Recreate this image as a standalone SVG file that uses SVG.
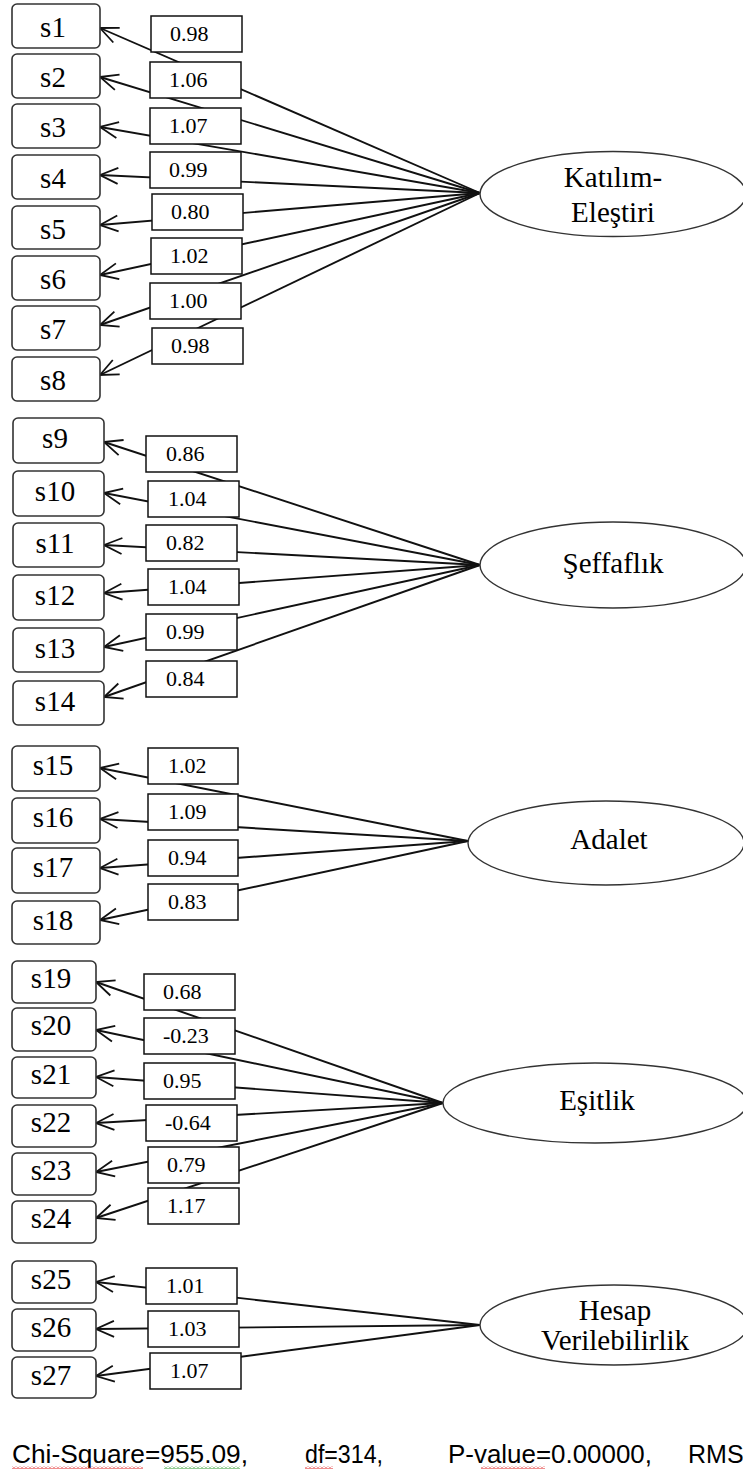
<svg xmlns="http://www.w3.org/2000/svg" width="743" height="1470" viewBox="0 0 743 1470">
<style>
.ind rect{fill:#fff;stroke:#333;stroke-width:1.6}
.ind text{font-family:"Liberation Serif","Times New Roman",serif;font-size:29px;fill:#000;text-anchor:middle}
.val rect{fill:#fff;stroke:#111;stroke-width:1.5}
.val text{font-family:"Liberation Serif","Times New Roman",serif;font-size:22px;fill:#000}
.lat ellipse{fill:#fff;stroke:#333;stroke-width:1.4}
.lat text{font-family:"Liberation Serif","Times New Roman",serif;font-size:29px;fill:#000;text-anchor:middle}
#connectors line{stroke:#111;stroke-width:1.9;fill:none;marker-end:url(#arr)}
.fit{font-family:"Liberation Sans",Arial,sans-serif;font-size:25px;fill:#000}
</style>
<defs>
<marker id="arr" markerUnits="userSpaceOnUse" markerWidth="24" markerHeight="20" viewBox="0 0 24 20" refX="20" refY="10" orient="auto" overflow="visible">
<path d="M2,2 L20,10 L2,18" fill="none" stroke="#111" stroke-width="1.8"/>
</marker>
<pattern id="wavyRed" width="4" height="3" patternUnits="userSpaceOnUse"><path d="M0,2.5 L2,0.5 L4,2.5" stroke="#e02020" fill="none" stroke-width="1"/></pattern>
<pattern id="wavyGreen" width="4" height="3" patternUnits="userSpaceOnUse"><path d="M0,2.5 L2,0.5 L4,2.5" stroke="#2a9a2a" fill="none" stroke-width="1"/></pattern>
</defs>
<rect width="743" height="1470" fill="#fff"/>

<g id="connectors">
<line x1="480" y1="193" x2="100" y2="28"/>
<line x1="480" y1="193" x2="100" y2="77"/>
<line x1="480" y1="193" x2="100" y2="127"/>
<line x1="480" y1="193" x2="100" y2="175"/>
<line x1="480" y1="193" x2="100" y2="225"/>
<line x1="480" y1="193" x2="100" y2="275"/>
<line x1="480" y1="193" x2="100" y2="325"/>
<line x1="480" y1="193" x2="100" y2="375"/>

<line x1="480" y1="565" x2="104" y2="442"/>
<line x1="480" y1="565" x2="104" y2="493"/>
<line x1="480" y1="565" x2="104" y2="545"/>
<line x1="480" y1="565" x2="104" y2="593"/>
<line x1="480" y1="565" x2="104" y2="647"/>
<line x1="480" y1="565" x2="104" y2="697"/>

<line x1="468" y1="841" x2="100" y2="768"/>
<line x1="468" y1="841" x2="100" y2="819"/>
<line x1="468" y1="841" x2="100" y2="868"/>
<line x1="468" y1="841" x2="100" y2="920"/>

<line x1="443" y1="1103" x2="96" y2="982"/>
<line x1="443" y1="1103" x2="96" y2="1030"/>
<line x1="443" y1="1103" x2="96" y2="1077"/>
<line x1="443" y1="1103" x2="96" y2="1123"/>
<line x1="443" y1="1103" x2="96" y2="1172"/>
<line x1="443" y1="1103" x2="96" y2="1218"/>

<line x1="480" y1="1325" x2="96" y2="1282"/>
<line x1="480" y1="1325" x2="96" y2="1329"/>
<line x1="480" y1="1325" x2="96" y2="1376"/>
</g>

<g id="labels">
<g class="val" id="l1"><rect x="151" y="16" width="91" height="36"/><text x="170" y="41">0.98</text></g>
<g class="val" id="l2"><rect x="150" y="62" width="91" height="36"/><text x="169" y="87">1.06</text></g>
<g class="val" id="l3"><rect x="150" y="108" width="91" height="36"/><text x="169" y="133">1.07</text></g>
<g class="val" id="l4"><rect x="150" y="152" width="91" height="36"/><text x="169" y="177">0.99</text></g>
<g class="val" id="l5"><rect x="152" y="194" width="91" height="36"/><text x="171" y="219">0.80</text></g>
<g class="val" id="l6"><rect x="151" y="238" width="91" height="36"/><text x="170" y="263">1.02</text></g>
<g class="val" id="l7"><rect x="150" y="283" width="91" height="36"/><text x="169" y="308">1.00</text></g>
<g class="val" id="l8"><rect x="152" y="328" width="91" height="36"/><text x="171" y="353">0.98</text></g>

<g class="val" id="l9"><rect x="146" y="436" width="91" height="36"/><text x="166" y="461">0.86</text></g>
<g class="val" id="l10"><rect x="148" y="481" width="91" height="36"/><text x="168" y="506">1.04</text></g>
<g class="val" id="l11"><rect x="146" y="525" width="91" height="36"/><text x="166" y="550">0.82</text></g>
<g class="val" id="l12"><rect x="148" y="569" width="91" height="36"/><text x="168" y="594">1.04</text></g>
<g class="val" id="l13"><rect x="146" y="614" width="91" height="36"/><text x="166" y="639">0.99</text></g>
<g class="val" id="l14"><rect x="146" y="661" width="91" height="36"/><text x="166" y="686">0.84</text></g>

<g class="val" id="l15"><rect x="148" y="748" width="90" height="36"/><text x="168" y="773">1.02</text></g>
<g class="val" id="l16"><rect x="148" y="794" width="90" height="36"/><text x="168" y="819">1.09</text></g>
<g class="val" id="l17"><rect x="148" y="840" width="90" height="36"/><text x="168" y="865">0.94</text></g>
<g class="val" id="l18"><rect x="148" y="884" width="90" height="36"/><text x="168" y="909">0.83</text></g>

<g class="val" id="l19"><rect x="144" y="974" width="91" height="36"/><text x="163" y="999">0.68</text></g>
<g class="val" id="l20"><rect x="144" y="1018" width="91" height="36"/><text x="163" y="1043">-0.23</text></g>
<g class="val" id="l21"><rect x="144" y="1063" width="91" height="36"/><text x="163" y="1088">0.95</text></g>
<g class="val" id="l22"><rect x="146" y="1105" width="91" height="36"/><text x="165" y="1130">-0.64</text></g>
<g class="val" id="l23"><rect x="148" y="1147" width="91" height="36"/><text x="167" y="1172">0.79</text></g>
<g class="val" id="l24"><rect x="148" y="1188" width="91" height="36"/><text x="167" y="1213">1.17</text></g>

<g class="val" id="l25"><rect x="146" y="1268" width="91" height="36"/><text x="166" y="1293">1.01</text></g>
<g class="val" id="l26"><rect x="148" y="1311" width="91" height="36"/><text x="168" y="1336">1.03</text></g>
<g class="val" id="l27"><rect x="150" y="1353" width="91" height="36"/><text x="170" y="1378">1.07</text></g>
</g>

<g id="s1" class="ind"><rect x="12" y="4" width="88" height="44" rx="5"/><text x="53" y="37">s1</text></g>
<g id="s2" class="ind"><rect x="12" y="54" width="88" height="44" rx="5"/><text x="53" y="87">s2</text></g>
<g id="s3" class="ind"><rect x="12" y="104" width="88" height="44" rx="5"/><text x="53" y="137">s3</text></g>
<g id="s4" class="ind"><rect x="12" y="155" width="88" height="44" rx="5"/><text x="53" y="188">s4</text></g>
<g id="s5" class="ind"><rect x="12" y="206" width="88" height="43" rx="5"/><text x="53" y="239">s5</text></g>
<g id="s6" class="ind"><rect x="12" y="256" width="88" height="44" rx="5"/><text x="53" y="289">s6</text></g>
<g id="s7" class="ind"><rect x="12" y="306" width="88" height="44" rx="5"/><text x="53" y="339">s7</text></g>
<g id="s8" class="ind"><rect x="12" y="357" width="88" height="44" rx="5"/><text x="53" y="390">s8</text></g>

<g id="s9" class="ind"><rect x="13" y="418" width="91" height="45" rx="5"/><text x="55" y="448">s9</text></g>
<g id="s10" class="ind"><rect x="13" y="471" width="91" height="45" rx="5"/><text x="55" y="501">s10</text></g>
<g id="s11" class="ind"><rect x="13" y="523" width="91" height="44" rx="5"/><text x="55" y="553">s11</text></g>
<g id="s12" class="ind"><rect x="13" y="575" width="91" height="45" rx="5"/><text x="55" y="605">s12</text></g>
<g id="s13" class="ind"><rect x="13" y="628" width="91" height="44" rx="5"/><text x="55" y="658">s13</text></g>
<g id="s14" class="ind"><rect x="13" y="681" width="91" height="44" rx="5"/><text x="55" y="711">s14</text></g>

<g id="s15" class="ind"><rect x="12" y="746" width="88" height="45" rx="5"/><text x="53" y="775">s15</text></g>
<g id="s16" class="ind"><rect x="12" y="798" width="88" height="45" rx="5"/><text x="53" y="827">s16</text></g>
<g id="s17" class="ind"><rect x="12" y="848" width="88" height="45" rx="5"/><text x="53" y="877">s17</text></g>
<g id="s18" class="ind"><rect x="12" y="901" width="88" height="43" rx="5"/><text x="53" y="930">s18</text></g>

<g id="s19" class="ind"><rect x="12" y="961" width="84" height="42" rx="5"/><text x="51" y="988">s19</text></g>
<g id="s20" class="ind"><rect x="12" y="1008" width="84" height="43" rx="5"/><text x="51" y="1035">s20</text></g>
<g id="s21" class="ind"><rect x="12" y="1057" width="84" height="41" rx="5"/><text x="51" y="1084">s21</text></g>
<g id="s22" class="ind"><rect x="12" y="1105" width="84" height="42" rx="5"/><text x="51" y="1132">s22</text></g>
<g id="s23" class="ind"><rect x="12" y="1153" width="84" height="42" rx="5"/><text x="51" y="1180">s23</text></g>
<g id="s24" class="ind"><rect x="12" y="1201" width="84" height="42" rx="5"/><text x="51" y="1228">s24</text></g>

<g id="s25" class="ind"><rect x="12" y="1261" width="84" height="42" rx="5"/><text x="51" y="1289">s25</text></g>
<g id="s26" class="ind"><rect x="12" y="1309" width="84" height="42" rx="5"/><text x="51" y="1337">s26</text></g>
<g id="s27" class="ind"><rect x="12" y="1357" width="84" height="41" rx="5"/><text x="51" y="1385">s27</text></g>

<g id="katilim" class="lat"><ellipse cx="613" cy="194" rx="133" ry="42.5"/><text x="613" y="187">Katılım-</text><text x="613" y="222">Eleştiri</text></g>
<g id="seffaflik" class="lat"><ellipse cx="613" cy="565" rx="133" ry="43"/><text x="613" y="573">Şeffaflık</text></g>
<g id="adalet" class="lat"><ellipse cx="606" cy="843" rx="138" ry="42"/><text x="609" y="849">Adalet</text></g>
<g id="esitlik" class="lat"><ellipse cx="595" cy="1103" rx="152" ry="40"/><text x="597" y="1110">Eşitlik</text></g>
<g id="hesap" class="lat"><ellipse cx="614" cy="1325" rx="134" ry="40"/><text x="615" y="1320">Hesap</text><text x="615" y="1350">Verilebilirlik</text></g>

<g id="fitline">
<text class="fit" y="1463"><tspan x="12" textLength="236" lengthAdjust="spacingAndGlyphs">Chi-Square=955.09,</tspan><tspan x="305" textLength="78" lengthAdjust="spacingAndGlyphs">df=314,</tspan><tspan x="448" textLength="204" lengthAdjust="spacingAndGlyphs">P-value=0.00000,</tspan><tspan x="688">RMS</tspan></text>
<rect x="12" y="1466" width="131" height="3" fill="url(#wavyRed)"/>
<rect x="164" y="1466" width="76" height="3" fill="url(#wavyGreen)"/>
<rect x="305" y="1466" width="28" height="3" fill="url(#wavyRed)"/>
<rect x="481" y="1466" width="64" height="3" fill="url(#wavyRed)"/>
</g>
</svg>
